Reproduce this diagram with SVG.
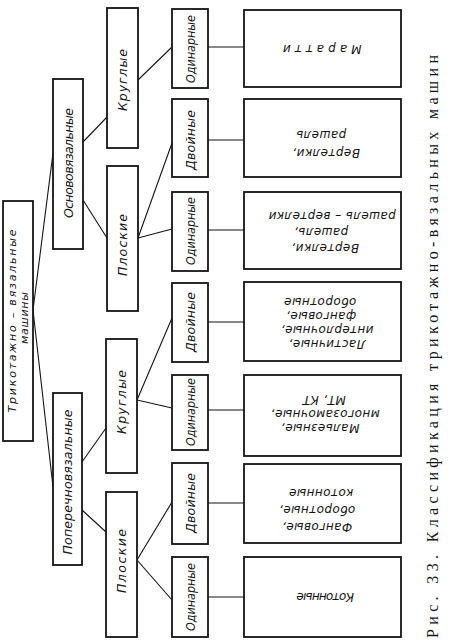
<svg xmlns="http://www.w3.org/2000/svg" width="450" height="642" viewBox="0 0 450 642">
<style>
.box{fill:#fff;stroke:#151515;stroke-width:1.8}
.ln{stroke:#151515;stroke-width:1.1;fill:none}
.t{font-family:"DejaVu Sans","Liberation Sans",sans-serif;font-style:italic;fill:#151515;text-anchor:middle;dominant-baseline:central}
.s{font-size:11px}
.m{font-size:12.5px}
.l4{font-size:12px;letter-spacing:0.4px}
.cap{font-family:"Liberation Serif","DejaVu Serif",serif;font-size:16px;fill:#151515;dominant-baseline:central}
</style>
<rect width="450" height="642" fill="#fff"/>
<g id="connectors">
<path class="ln" d="M53,153 L33,310 M53,487 L33,310"/>
<path class="ln" d="M83,142 L107,117 M83,200 L107,238"/>
<path class="ln" d="M82,462 L106,428 M82,510 L106,532"/>
<path class="ln" d="M138,80 L172,47"/>
<path class="ln" d="M138,238 L172,143 M138,238 L172,229"/>
<path class="ln" d="M137,400 L172,318 M137,400 L172,408"/>
<path class="ln" d="M137,560 L172,502 M137,560 L172,600"/>
<path class="ln" d="M208,47 H244 M208,140 H244 M208,230 H244 M208,322 H244 M208,410 H244 M208,503 H244 M208,597 H244"/>
</g>
<g id="root">
<rect class="box" x="3" y="201" width="30" height="240"/>
<text class="t s" transform="rotate(-90 12 321)" x="12" y="321" textLength="183" lengthAdjust="spacing">Трикотажно – вязальные</text>
<text class="t s" transform="rotate(-90 24 318)" x="24" y="318" textLength="52" lengthAdjust="spacing">машины</text>
</g>
<g id="osnovo">
<rect class="box" x="53" y="79" width="30" height="170"/>
<text class="t m" transform="rotate(-90 68 163)" x="68" y="163" textLength="110" lengthAdjust="spacing">Основовязальные</text>
</g>
<g id="poperechno">
<rect class="box" x="53" y="393" width="29" height="172"/>
<text class="t m" transform="rotate(-90 67.5 482)" x="67.5" y="482" textLength="145" lengthAdjust="spacing">Поперечновязальные</text>
</g>
<g id="krug1">
<rect class="box" x="107" y="8" width="31" height="140"/>
<text class="t m" transform="rotate(-90 122 80)" x="122" y="80" textLength="62" lengthAdjust="spacing">Круглые</text>
</g>
<g id="plosk1">
<rect class="box" x="107" y="166" width="31" height="145"/>
<text class="t m" transform="rotate(-90 122 245)" x="122" y="245" textLength="62" lengthAdjust="spacing">Плоские</text>
</g>
<g id="krug2">
<rect class="box" x="106" y="339" width="31" height="134"/>
<text class="t m" transform="rotate(-90 121 402)" x="121" y="402" textLength="64" lengthAdjust="spacing">Круглые</text>
</g>
<g id="plosk2">
<rect class="box" x="106" y="492" width="31" height="145"/>
<text class="t m" transform="rotate(-90 121 561)" x="121" y="561" textLength="64" lengthAdjust="spacing">Плоские</text>
</g>
<g id="od1">
<rect class="box" x="172" y="9" width="36" height="79"/>
<text class="t m" transform="rotate(-90 190 49)" x="190" y="49" textLength="68" lengthAdjust="spacingAndGlyphs">Одинарные</text>
</g>
<g id="dv1">
<rect class="box" x="172" y="99" width="36" height="78"/>
<text class="t m" transform="rotate(-90 190 140)" x="190" y="140" textLength="60" lengthAdjust="spacing">Двойные</text>
</g>
<g id="od2">
<rect class="box" x="172" y="192" width="36" height="79"/>
<text class="t m" transform="rotate(-90 190 231)" x="190" y="231" textLength="68" lengthAdjust="spacingAndGlyphs">Одинарные</text>
</g>
<g id="dv2">
<rect class="box" x="172" y="283" width="36" height="79"/>
<text class="t m" transform="rotate(-90 190 322)" x="190" y="322" textLength="60" lengthAdjust="spacing">Двойные</text>
</g>
<g id="od3">
<rect class="box" x="172" y="375" width="36" height="75"/>
<text class="t m" transform="rotate(-90 190 412)" x="190" y="412" textLength="68" lengthAdjust="spacingAndGlyphs">Одинарные</text>
</g>
<g id="dv3">
<rect class="box" x="172" y="463" width="36" height="81"/>
<text class="t m" transform="rotate(-90 190 503)" x="190" y="503" textLength="60" lengthAdjust="spacing">Двойные</text>
</g>
<g id="od4">
<rect class="box" x="172" y="557" width="36" height="80"/>
<text class="t m" transform="rotate(-90 190 597)" x="190" y="597" textLength="68" lengthAdjust="spacingAndGlyphs">Одинарные</text>
</g>
<g id="m1">
<rect class="box" x="244" y="10" width="157" height="77"/>
<text class="t l4" transform="rotate(180 322 49)" x="322" y="49" textLength="79" lengthAdjust="spacing">Маратти</text>
</g>
<g id="m2">
<rect class="box" x="244" y="99" width="157" height="78"/>
<text class="t l4" transform="rotate(180 321 135)" x="321" y="135">рашель</text>
<text class="t l4" transform="rotate(180 326 153)" x="326" y="153">Вертелки,</text>
</g>
<g id="m3">
<rect class="box" x="244" y="192" width="157" height="77"/>
<text class="t l4" transform="rotate(180 332 216)" x="332" y="216">рашель – вертелки</text>
<text class="t l4" transform="rotate(180 321 232)" x="321" y="232">рашель,</text>
<text class="t l4" transform="rotate(180 325 248)" x="325" y="248">Вертелки,</text>
</g>
<g id="m4">
<rect class="box" x="244" y="282" width="157" height="79"/>
<text class="t l4" transform="rotate(180 320 302)" x="320" y="302">оборотные</text>
<text class="t l4" transform="rotate(180 321 316)" x="321" y="316">фанговые,</text>
<text class="t l4" transform="rotate(180 327 330)" x="327" y="330">интерлочные,</text>
<text class="t l4" transform="rotate(180 327 344)" x="327" y="344">Ластичные,</text>
</g>
<g id="m5">
<rect class="box" x="244" y="375" width="157" height="81"/>
<text class="t l4" transform="rotate(180 324 400)" x="324" y="400">МТ, КТ</text>
<text class="t l4" transform="rotate(180 325 414)" x="325" y="414">многозамочные,</text>
<text class="t l4" transform="rotate(180 320 428)" x="320" y="428">Мальезные,</text>
</g>
<g id="m6">
<rect class="box" x="244" y="464" width="157" height="79"/>
<text class="t l4" transform="rotate(180 321 493)" x="321" y="493">котонные</text>
<text class="t l4" transform="rotate(180 317 510)" x="317" y="510">оборотные,</text>
<text class="t l4" transform="rotate(180 317 527)" x="317" y="527">Фанговые,</text>
</g>
<g id="m7">
<rect class="box" x="244" y="557" width="157" height="80"/>
<text class="t l4" transform="rotate(180 325 597)" x="325" y="597" textLength="58" lengthAdjust="spacing">Котонные</text>
</g>
<text class="cap" transform="rotate(-90 432 638)" x="432" y="638" textLength="583" lengthAdjust="spacing">Рис. 33. Классификация трикотажно-вязальных машин</text>
</svg>
